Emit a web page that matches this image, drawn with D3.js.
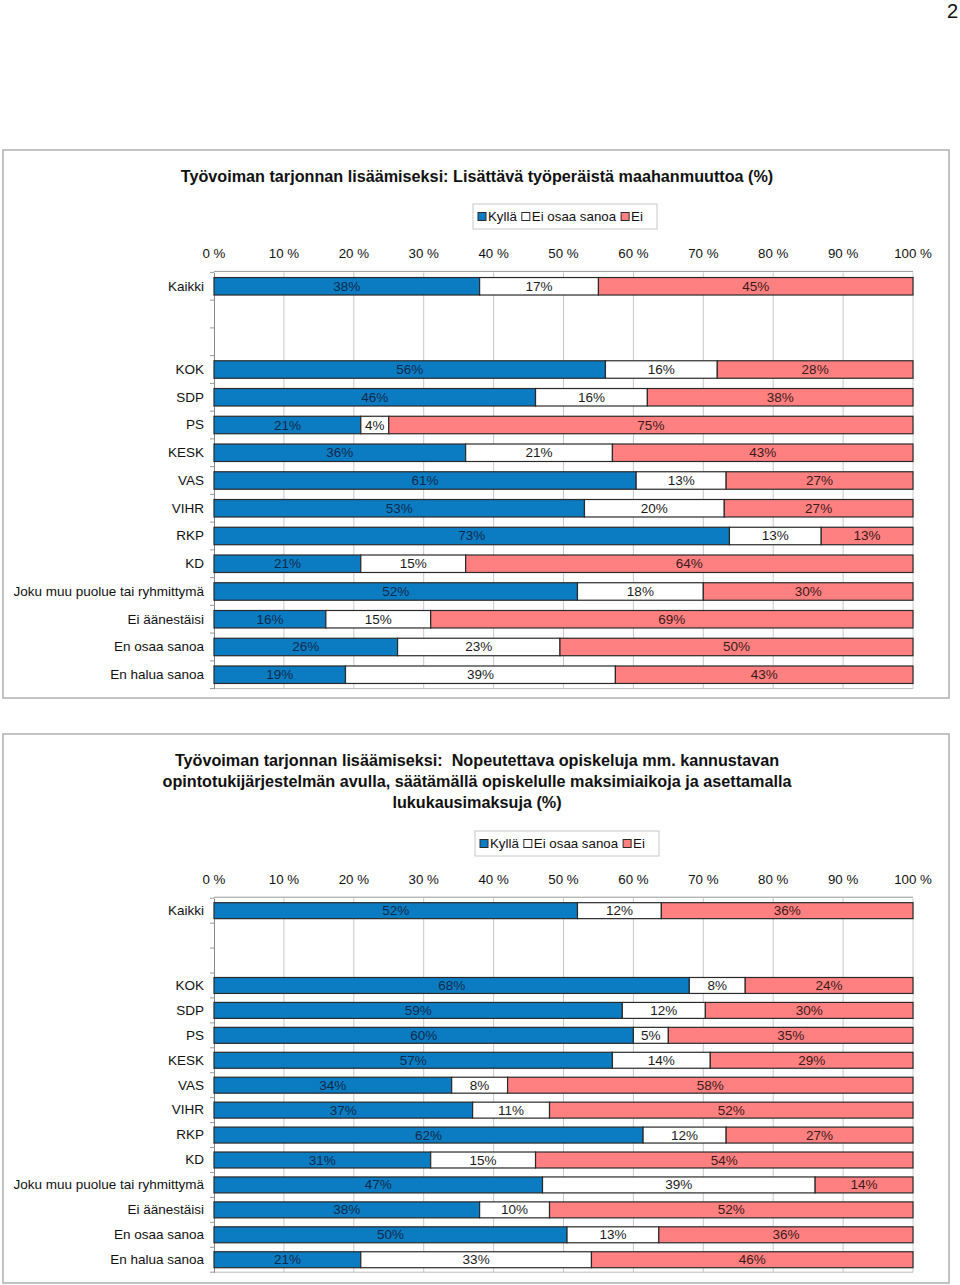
<!DOCTYPE html>
<html>
<head>
<meta charset="utf-8">
<script src="https://cdn.jsdelivr.net/npm/d3@7"></script>
<style>
  html, body { margin: 0; padding: 0; background: #fff; }
  svg { display: block; }
  text { font-family: "Liberation Sans", Arial, sans-serif; white-space: pre; }
</style>
</head>
<body>
<svg id="chart" width="960" height="1285"></svg>
<script>
// ---------- DATA ----------
const seriesNames = ["Kyllä", "Ei osaa sanoa", "Ei"];
const seriesColors = ["#0b7cc1", "#ffffff", "#ff8080"];
const labelColors = ["#0e2a4c", "#1a1a1a", "#3d1818"];
const tickLabels = ["0 %", "10 %", "20 %", "30 %", "40 %", "50 %", "60 %", "70 %", "80 %", "90 %", "100 %"];
const tickValues = [0, 0.1, 0.2, 0.3, 0.4, 0.5, 0.6, 0.7, 0.8, 0.9, 1.0];
const rowLabels = ["Kaikki", "", "", "KOK", "SDP", "PS", "KESK", "VAS", "VIHR", "RKP", "KD",
  "Joku muu puolue tai ryhmittymä", "Ei äänestäisi", "En osaa sanoa", "En halua sanoa"];
const dataRows = ["Kaikki", "KOK", "SDP", "PS", "KESK", "VAS", "VIHR", "RKP", "KD",
  "Joku muu puolue tai ryhmittymä", "Ei äänestäisi", "En osaa sanoa", "En halua sanoa"];

const chart1Title = ["Työvoiman tarjonnan lisäämiseksi: Lisättävä työperäistä maahanmuuttoa (%)"];
const chart1Kylla  = [38, 56, 46, 21, 36, 61, 53, 73, 21, 52, 16, 26, 19];
const chart1EiOsaa = [17, 16, 16, 4, 21, 13, 20, 13, 15, 18, 15, 23, 39];
const chart1Ei     = [45, 28, 38, 75, 43, 27, 27, 13, 64, 30, 69, 50, 43];

const chart2Title = ["Työvoiman tarjonnan lisäämiseksi:  Nopeutettava opiskeluja mm. kannustavan",
  "opintotukijärjestelmän avulla, säätämällä opiskelulle maksimiaikoja ja asettamalla",
  "lukukausimaksuja (%)"];
const chart2Kylla  = [52, 68, 59, 60, 57, 34, 37, 62, 31, 47, 38, 50, 21];
const chart2EiOsaa = [12, 8, 12, 5, 14, 8, 11, 12, 15, 39, 10, 13, 33];
const chart2Ei     = [36, 24, 30, 35, 29, 58, 52, 27, 54, 14, 52, 36, 46];

// ---------- DRAW ----------
const svg = d3.select("#chart");

// page number
svg.append("text").attr("x", 958).attr("y", 18).attr("text-anchor", "end")
  .attr("font-size", 20).attr("fill", "#111").text("2");

function drawChart(cfg) {
  const g = svg.append("g");
  // frame
  g.append("rect").attr("x", cfg.frame[0]).attr("y", cfg.frame[1])
    .attr("width", cfg.frame[2]).attr("height", cfg.frame[3])
    .attr("fill", "#fff").attr("stroke", "#b5b5b5").attr("stroke-width", 1.6);

  // title
  cfg.title.forEach((t, i) => {
    g.append("text").attr("x", cfg.titleX).attr("y", cfg.titleY + i * cfg.titleLH)
      .attr("text-anchor", "middle").attr("dominant-baseline", "central")
      .attr("font-size", 16.2).attr("font-weight", "bold").attr("fill", "#111")
      .attr("xml:space", "preserve")
      .text(t);
  });

  const x = d3.scaleLinear().domain([0, 1]).range([214, 913]);
  const y = d3.scaleBand().domain(rowLabels.map((d, i) => i)).range(cfg.yRange).paddingInner(cfg.pad).paddingOuter(cfg.pad / 2);

  // gridlines
  g.append("g").selectAll("line").data(tickValues.slice(1)).join("line")
    .attr("x1", d => x(d)).attr("x2", d => x(d))
    .attr("y1", cfg.yRange[0]).attr("y2", cfg.yRange[1])
    .attr("stroke", "#c8c8c8").attr("stroke-width", 1);

  // top axis line and bottom line
  g.append("line").attr("x1", x(0)).attr("x2", x(1)).attr("y1", cfg.yRange[0] - 1).attr("y2", cfg.yRange[0] - 1)
    .attr("stroke", "#999").attr("stroke-width", 1);
  g.append("line").attr("x1", x(0)).attr("x2", x(1)).attr("y1", cfg.yRange[1]).attr("y2", cfg.yRange[1])
    .attr("stroke", "#bbb").attr("stroke-width", 1);

  // top tick labels
  g.append("g").selectAll("text").data(tickValues).join("text")
    .attr("x", d => x(d)).attr("y", cfg.tickY)
    .attr("text-anchor", "middle").attr("dominant-baseline", "central")
    .attr("font-size", 13.3).attr("fill", "#111")
    .text((d, i) => tickLabels[i]);

  // left axis
  const yAxis = d3.axisLeft(y).tickSize(0).tickFormat(i => rowLabels[i]);
  const ag = g.append("g").attr("transform", `translate(${x(0)},0)`).call(yAxis);
  ag.select(".domain").attr("stroke", "#888");
  ag.selectAll("text").attr("font-size", 13.5).attr("fill", "#111").attr("x", -10)
    .attr("font-family", "'Liberation Sans', Arial, sans-serif");
  // small boundary ticks
  const bounds = d3.range(rowLabels.length + 1).map(i => cfg.yRange[0] + i * y.step());
  g.append("g").selectAll("line").data(bounds).join("line")
    .attr("x1", x(0) - 4).attr("x2", x(0)).attr("y1", d => d).attr("y2", d => d)
    .attr("stroke", "#999");

  // stacked bars
  const rows = dataRows.map((name, i) => ({ name, vals: [cfg.kylla[i], cfg.eiOsaa[i], cfg.ei[i]] }));
  rows.forEach(r => {
    const idx = rowLabels.indexOf(r.name);
    const total = d3.sum(r.vals);
    let cum = 0;
    r.vals.forEach((v, s) => {
      const x0 = x(cum / total), x1 = x((cum + v) / total);
      cum += v;
      g.append("rect").attr("x", x0).attr("y", y(idx)).attr("width", x1 - x0).attr("height", y.bandwidth())
        .attr("fill", seriesColors[s]).attr("stroke", "#2a2a2a").attr("stroke-width", 1.2);
      g.append("text").attr("x", (x0 + x1) / 2).attr("y", y(idx) + y.bandwidth() / 2)
        .attr("text-anchor", "middle").attr("dominant-baseline", "central")
        .attr("font-size", 13.5).attr("fill", labelColors[s]).text(v + "%");
    });
  });

  // legend
  const lg = g.append("g");
  lg.append("rect").attr("x", cfg.legend[0]).attr("y", cfg.legend[1]).attr("width", cfg.legend[2]).attr("height", cfg.legend[3])
    .attr("fill", "#fff").attr("stroke", "#c8c8c8");
  const cy = cfg.legend[1] + cfg.legend[3] / 2;
  let lx = cfg.legend[0] + 5;
  seriesNames.forEach((n, s) => {
    lg.append("rect").attr("x", lx).attr("y", cy - 4).attr("width", 8).attr("height", 8)
      .attr("fill", seriesColors[s]).attr("stroke", "#2a2a2a");
    const t = lg.append("text").attr("x", lx + 10).attr("y", cy).attr("dominant-baseline", "central")
      .attr("font-size", 13.3).attr("fill", "#111").text(n);
    lx += 10 + t.node().getComputedTextLength() + 5;
  });
}

drawChart({
  frame: [3, 150, 946, 548],
  title: chart1Title, titleX: 477, titleY: 176, titleLH: 21,
  tickY: 253,
  yRange: [272.4, 688.6], pad: 0.37,
  legend: [473, 204, 184, 25],
  kylla: chart1Kylla, eiOsaa: chart1EiOsaa, ei: chart1Ei
});

drawChart({
  frame: [3, 734, 946, 549],
  title: chart2Title, titleX: 477, titleY: 760, titleLH: 21,
  tickY: 879,
  yRange: [898.2, 1272.2], pad: 0.36,
  legend: [475, 831, 184, 25],
  kylla: chart2Kylla, eiOsaa: chart2EiOsaa, ei: chart2Ei
});
</script>
</body>
</html>
